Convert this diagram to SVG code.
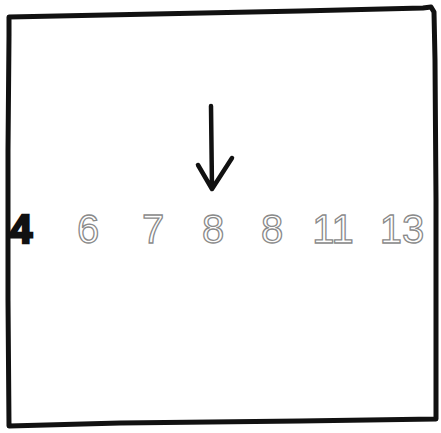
<svg xmlns="http://www.w3.org/2000/svg" width="441" height="433" viewBox="0 0 441 433">
<style>
.num{font-family:"Liberation Sans",Arial,sans-serif;font-size:40px;text-anchor:middle;fill:#fff;stroke:#8a8a8a;stroke-width:1.3}
.first{font-family:"Liberation Sans",Arial,sans-serif;font-size:40px;text-anchor:middle;fill:#111;stroke:#111;stroke-width:2.5;font-weight:bold}
.ink{fill:none;stroke:#111;stroke-linecap:round;stroke-linejoin:round}
</style>
<rect width="441" height="433" fill="#fff"/>
<g id="frame">
<path class="ink" stroke-width="5" d="M9,36 L9,17 Q140,14 300,11 L423,8 L431,7 L434,12 L435,60 L436,200 L436,300 L436,419 L300,421 L120,423 L9,426 L8,300 L8,150 L9,36"/>
</g>
<g id="numbers">
<g id="n0"><text class="first" x="21" y="243">4</text></g>
<g id="n1"><text class="num" x="88" y="243">6</text></g>
<g id="n2"><text class="num" x="153" y="243">7</text></g>
<g id="n3"><text class="num" x="213" y="243">8</text></g>
<g id="n4"><text class="num" x="272" y="243">8</text></g>
<g id="n5"><text class="num" x="333" y="243">11</text></g>
<g id="n6"><text class="num" x="402" y="243">13</text></g>
</g>
<g id="connectors">
<path class="ink" stroke-width="4.5" d="M211,106 L212,189 M198,165 L212,189 L232,158"/>
</g>
</svg>
